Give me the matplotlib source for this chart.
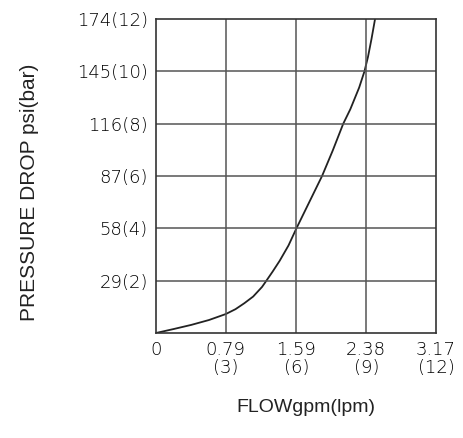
import numpy as np
import matplotlib.pyplot as plt

flow = [0, 0.2, 0.4, 0.6, 0.79, 0.9, 1.0, 1.1, 1.2, 1.25, 1.32, 1.40, 1.5, 1.59,
        1.7, 1.8, 1.88, 2.0, 2.12, 2.2, 2.3, 2.36, 2.40, 2.44, 2.48]
psi = [0, 2.2, 4.5, 7.2, 10.5, 13.2, 16.5, 20.2, 25.5, 29, 34, 40, 48.5, 58,
       69, 79, 87, 101, 116, 124, 136, 145, 153, 163, 174]

x_ticks = [0, 0.79, 1.59, 2.38, 3.17]
x_labels = ['0', '0.79\n(3)', '1.59\n(6)', '2.38\n(9)', '3.17\n(12)']
y_ticks = [29, 58, 87, 116, 145, 174]
y_labels = ['29(2)', '58(4)', '87(6)', '116(8)', '145(10)', '174(12)']

fig = plt.figure(figsize=(4.64, 4.38), dpi=100)
ax = fig.add_axes([156/464, 1 - 333/438, 280/464, 314/438])

ax.plot(flow, psi, color='#222222', lw=1.3)
ax.set_xlim(0, 3.17)
ax.set_ylim(0, 174)

for xv in x_ticks[1:-1]:
    ax.axvline(xv, color='#555555', lw=1.1)
for yv in y_ticks[:-1]:
    ax.axhline(yv, color='#555555', lw=1.1)

tick_font = dict(fontsize=13, color='#000000', fontweight='light', family='DejaVu Sans')
ax.set_xticks(x_ticks)
ax.set_xticklabels(x_labels, linespacing=1.0, va='top', **tick_font)
ax.set_yticks(y_ticks)
ax.set_yticklabels(y_labels, **tick_font)
ax.tick_params(length=0, pad=6)
for s in ax.spines.values():
    s.set_color('#333333')
    s.set_linewidth(1.2)

fig.text(30/464, 1 - 192/438, 'PRESSURE DROP psi(bar)', rotation=90, ha='center', va='center',
         fontsize=15, family='Liberation Sans', color='#222222')
fig.text(306/464, 1 - 408/438, 'FLOWgpm(lpm)', ha='center', va='center',
         fontsize=14, family='Liberation Sans', color='#222222')

fig.savefig('out.png', dpi=100)
